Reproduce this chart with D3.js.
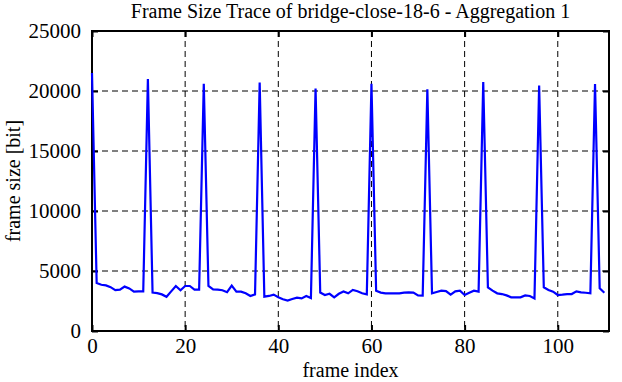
<!DOCTYPE html>
<html>
<head>
    <title>Frame Size Trace</title>
    <style>
        body { margin: 0; background: #fff; }
        text { font-family: "Liberation Serif", "Times New Roman", serif; fill: #000; }
    </style>
    <script src="https://d3js.org/d3.v7.min.js"></script>
</head>
<body>
<script type="text/javascript">

    // frame size per frame index (bits)
    var frameSize = [
        21500, 4000, 3850, 3800, 3650, 3400, 3450, 3700, 3550, 3280, 3300, 3300,
        21000, 3200, 3150, 3050, 2850, 3300, 3750, 3400, 3750, 3750, 3450, 3450,
        20600, 3750, 3470, 3450, 3400, 3230, 3780, 3280, 3280, 3140, 2920, 3050,
        20700, 2860, 2920, 3030, 2810, 2640, 2530, 2670, 2780, 2720, 2920, 2750,
        20200, 3200, 3000, 3100, 2800, 3100, 3300, 3140, 3420, 3310, 3140, 3050,
        20600, 3360, 3200, 3140, 3140, 3140, 3140, 3200, 3220, 3200, 2970, 2950,
        20150, 3140, 3250, 3360, 3330, 3030, 3300, 3360, 3000, 3190, 3360, 3280,
        20750, 3640, 3360, 3140, 3080, 2970, 2810, 2810, 2810, 2970, 2920, 2720,
        20450, 3640, 3420, 3280, 3000, 3030, 3080, 3080, 3300, 3220, 3190, 3140,
        20580, 3560, 3190
    ];
    var xTicks = [0, 20, 40, 60, 80, 100];
    var yTicks = [0, 5000, 10000, 15000, 20000, 25000];

    var width = 622, height = 382;
    var pLeft = 92, pRight = 609, pTop = 31, pBottom = 331;

    var svg = d3.select('body')
                .append('svg')
                .attr('width', width)
                .attr('height', height);

    var x = d3.scaleLinear().domain([0, 111]).range([pLeft, pRight]);
    var y = d3.scaleLinear().domain([0, 25000]).range([pBottom, pTop]);

    // dashed grid
    var grid = svg.append('g')
            .attr('stroke', '#000')
            .attr('stroke-width', 1)
            .attr('stroke-dasharray', '6,4');

    grid.selectAll('line.gx')
        .data(xTicks.slice(1))
        .enter()
        .append('line')
        .attr('x1', function(d) { return x(d); })
        .attr('x2', function(d) { return x(d); })
        .attr('y1', pTop)
        .attr('y2', pBottom);

    grid.selectAll('line.gy')
        .data(yTicks.slice(1, -1))
        .enter()
        .append('line')
        .attr('x1', pLeft)
        .attr('x2', pRight)
        .attr('y1', function(d) { return y(d); })
        .attr('y2', function(d) { return y(d); });

    // axes, ticks pointing inward on all four sides
    var tickFont = '21px';

    var gx = svg.append('g')
            .attr('transform', 'translate(0,' + pBottom + ')')
            .call(d3.axisBottom(x).tickValues(xTicks).tickSize(-6).tickPadding(7).tickSizeOuter(0));
    var gy = svg.append('g')
            .attr('transform', 'translate(' + pLeft + ',0)')
            .call(d3.axisLeft(y).tickValues(yTicks).tickFormat(d3.format('d')).tickSize(-6).tickPadding(11).tickSizeOuter(0));
    var gt = svg.append('g')
            .attr('transform', 'translate(0,' + pTop + ')')
            .call(d3.axisTop(x).tickValues(xTicks).tickSize(-6).tickFormat('').tickSizeOuter(0));
    var gr = svg.append('g')
            .attr('transform', 'translate(' + pRight + ',0)')
            .call(d3.axisRight(y).tickValues(yTicks).tickSize(-6).tickFormat('').tickSizeOuter(0));

    [gx, gy, gt, gr].forEach(function(g) {
        g.select('.domain').remove();
        g.selectAll('line').attr('stroke', '#000').attr('stroke-width', 2);
        g.selectAll('text')
            .style('font-family', '"Liberation Serif", serif')
            .style('font-size', tickFont)
            .attr('fill', '#000');
    });

    // frame border
    svg.append('rect')
        .attr('x', pLeft)
        .attr('y', pTop)
        .attr('width', pRight - pLeft)
        .attr('height', pBottom - pTop)
        .attr('fill', 'none')
        .attr('stroke', '#000')
        .attr('stroke-width', 2);

    // trace
    var line = d3.line()
            .x(function(d, i) { return x(i); })
            .y(function(d) { return y(d); });

    svg.append('path')
        .datum(frameSize)
        .attr('d', line)
        .attr('fill', 'none')
        .attr('stroke', '#0000ff')
        .attr('stroke-width', 2.2);

    // titles
    svg.append('text')
        .attr('x', (pLeft + pRight) / 2)
        .attr('y', 18)
        .attr('text-anchor', 'middle')
        .style('font-size', '20px')
        .text('Frame Size Trace of bridge-close-18-6 - Aggregation 1');

    svg.append('text')
        .attr('x', (pLeft + pRight) / 2)
        .attr('y', 377)
        .attr('text-anchor', 'middle')
        .style('font-size', '20px')
        .text('frame index');

    svg.append('text')
        .attr('transform', 'translate(20,' + ((pTop + pBottom) / 2) + ') rotate(-90)')
        .attr('text-anchor', 'middle')
        .style('font-size', '20px')
        .text('frame size [bit]');

</script>
</body>
</html>
